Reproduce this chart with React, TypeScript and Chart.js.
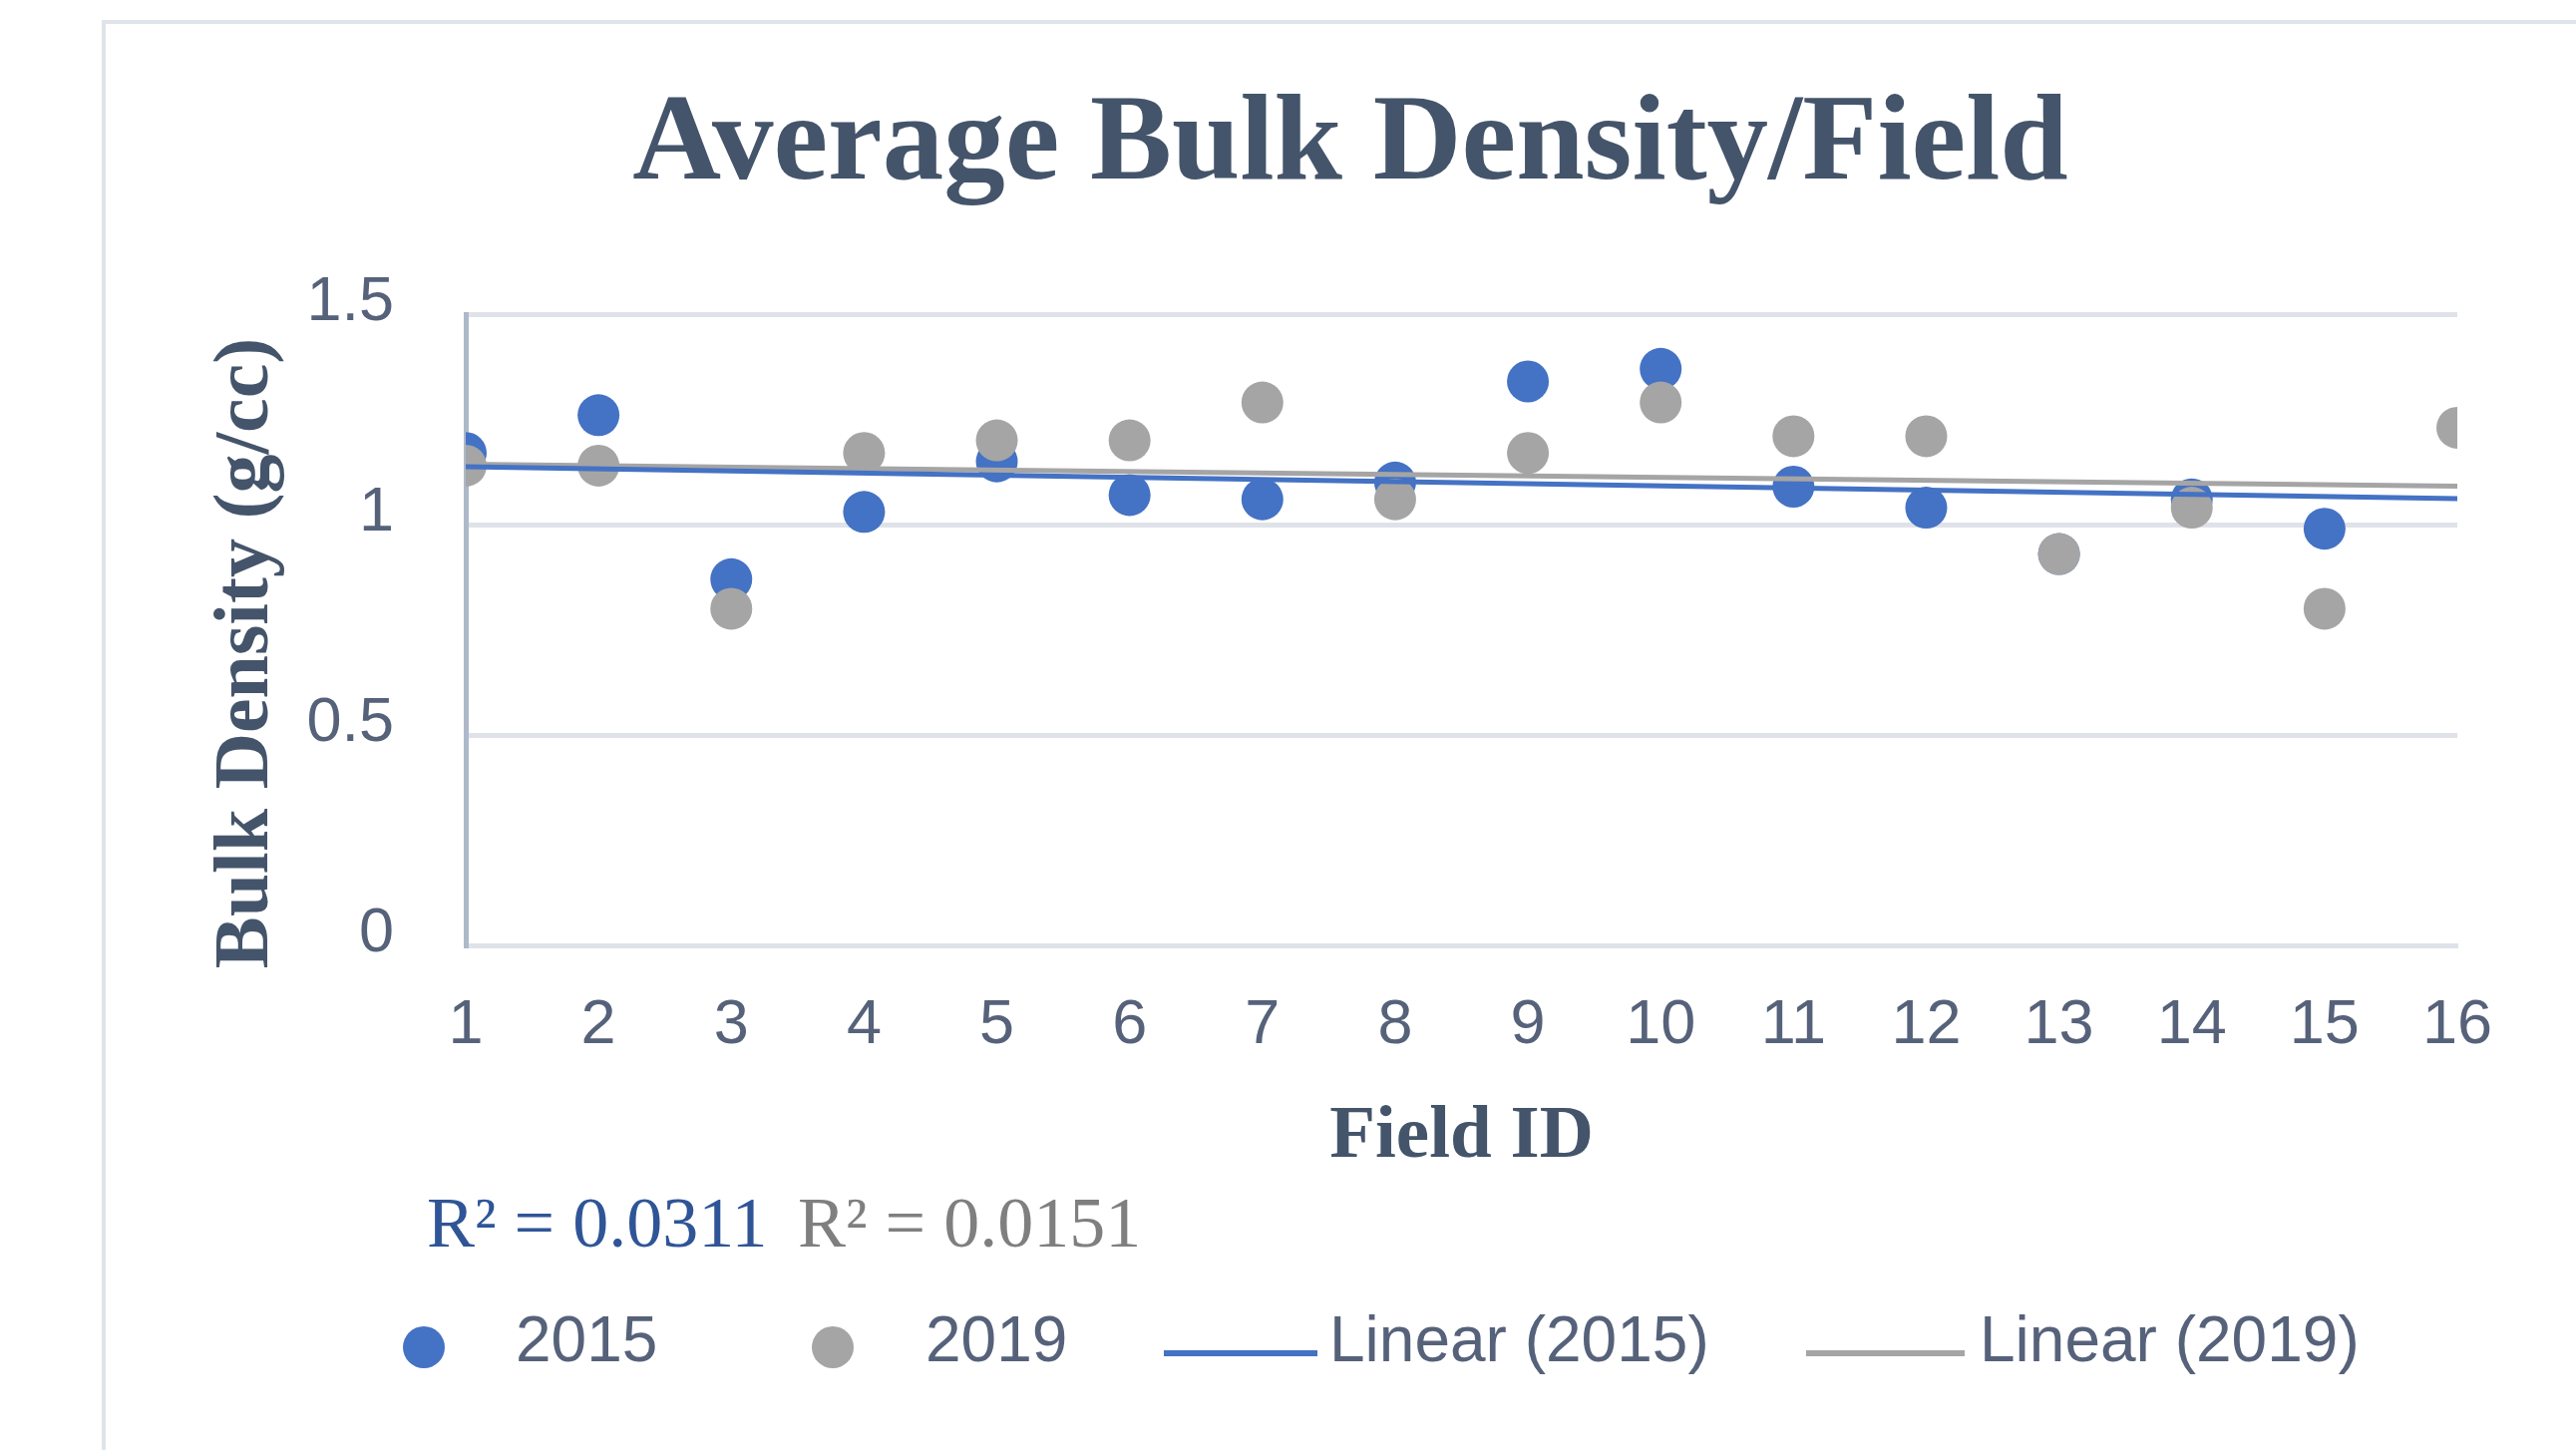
import React, { useEffect, useRef } from 'react';
import { Chart, registerables } from 'chart.js';

Chart.register(...registerables);

// ---- data ----
const fieldIds = [1, 2, 3, 4, 5, 6, 7, 8, 9, 10, 11, 12, 13, 14, 15, 16];
const bd2015 = [1.17, 1.26, 0.87, 1.03, 1.15, 1.07, 1.06, 1.1, 1.34, 1.37, 1.09, 1.04, 0.93, 1.06, 0.99];
const bd2019 = [1.14, 1.14, 0.8, 1.17, 1.2, 1.2, 1.29, 1.06, 1.17, 1.29, 1.21, 1.21, 0.93, 1.04, 0.8, 1.23];
const yTickValues = [0, 0.5, 1, 1.5];
const seriesLabels = ['2015', '2019'];
const trendLabels = ['Linear (2015)', 'Linear (2019)'];
const r2Labels = ['R² = 0.0311', 'R² = 0.0151'];
const titleText = 'Average Bulk Density/Field';
const xTitleText = 'Field ID';
const yTitleText = 'Bulk Density (g/cc)';

const BLUE = '#4472c4';
const GRAY = '#a5a5a5';
const TEXT = '#44546a';
const TICK = '#56627a';
const SERIF = '"Liberation Serif", "DejaVu Serif", serif';
const SANS = '"Liberation Sans", Arial, sans-serif';

function linFit(xs: number[], ys: number[]) {
  const n = ys.length;
  const x = xs.slice(0, n);
  const mx = x.reduce((a, b) => a + b, 0) / n;
  const my = ys.reduce((a, b) => a + b, 0) / n;
  let sxy = 0;
  let sxx = 0;
  for (let i = 0; i < n; i++) {
    sxy += (x[i] - mx) * (ys[i] - my);
    sxx += (x[i] - mx) * (x[i] - mx);
  }
  const b = sxy / sxx;
  const a = my - b * mx;
  return (v: number) => a + b * v;
}

const decorPlugin = {
  id: 'decor',
  beforeDraw(chart: any) {
    const ctx = chart.ctx;
    ctx.save();
    ctx.fillStyle = '#ffffff';
    ctx.fillRect(0, 0, chart.width, chart.height);
    ctx.strokeStyle = '#dfe3ea';
    ctx.lineWidth = 4;
    ctx.beginPath();
    ctx.moveTo(104, chart.height + 10);
    ctx.lineTo(104, 22);
    ctx.lineTo(chart.width + 10, 22);
    ctx.stroke();
    ctx.restore();
  },
  afterDraw(chart: any) {
    const ctx = chart.ctx;
    ctx.save();
    // main title
    ctx.fillStyle = TEXT;
    ctx.font = `bold 123px ${SERIF}`;
    ctx.textAlign = 'center';
    ctx.textBaseline = 'alphabetic';
    ctx.fillText(titleText, 1354, 179);

    // y axis title
    ctx.save();
    ctx.translate(268, 655);
    ctx.rotate(-Math.PI / 2);
    ctx.font = `bold 78px ${SERIF}`;
    ctx.textAlign = 'center';
    ctx.textBaseline = 'alphabetic';
    ctx.fillText(yTitleText, 0, 0);
    ctx.restore();

    // R² labels
    ctx.font = `72px ${SERIF}`;
    ctx.textAlign = 'left';
    ctx.fillStyle = '#2f5597';
    ctx.fillText(r2Labels[0], 428, 1250);
    ctx.fillStyle = '#7f7f7f';
    ctx.fillText(r2Labels[1], 800, 1250);

    // legend
    const ly = 1351;
    ctx.fillStyle = BLUE;
    ctx.beginPath();
    ctx.arc(425, ly, 21, 0, Math.PI * 2);
    ctx.fill();
    ctx.fillStyle = GRAY;
    ctx.beginPath();
    ctx.arc(835, ly, 21, 0, Math.PI * 2);
    ctx.fill();
    ctx.lineWidth = 6;
    ctx.strokeStyle = BLUE;
    ctx.beginPath();
    ctx.moveTo(1167, 1357);
    ctx.lineTo(1321, 1357);
    ctx.stroke();
    ctx.strokeStyle = GRAY;
    ctx.beginPath();
    ctx.moveTo(1811, 1357);
    ctx.lineTo(1970, 1357);
    ctx.stroke();

    ctx.fillStyle = TICK;
    ctx.font = `64px ${SANS}`;
    ctx.fillText(seriesLabels[0], 517, 1365);
    ctx.fillText(seriesLabels[1], 928, 1365);
    ctx.fillText(trendLabels[0], 1333, 1365);
    ctx.fillText(trendLabels[1], 1985, 1365);
    ctx.restore();
  },
};

export default function App() {
  const canvasRef = useRef<HTMLCanvasElement | null>(null);

  useEffect(() => {
    const canvas = canvasRef.current;
    if (!canvas) return;
    const fit15 = linFit(fieldIds, bd2015);
    const fit19 = linFit(fieldIds, bd2019);
    const xMin = fieldIds[0];
    const xMax = fieldIds[fieldIds.length - 1];

    const chart = new Chart(canvas, {
      type: 'scatter',
      data: {
        datasets: [
          {
            type: 'line',
            label: trendLabels[0],
            data: [
              { x: xMin, y: fit15(xMin) },
              { x: xMax, y: fit15(xMax) },
            ],
            borderColor: BLUE,
            borderWidth: 5,
            pointRadius: 0,
            fill: false,
            order: 0,
          },
          {
            type: 'line',
            label: trendLabels[1],
            data: [
              { x: xMin, y: fit19(xMin) },
              { x: xMax, y: fit19(xMax) },
            ],
            borderColor: GRAY,
            borderWidth: 5,
            pointRadius: 0,
            fill: false,
            order: 1,
          },
          {
            label: seriesLabels[1],
            data: bd2019.map((v, i) => ({ x: fieldIds[i], y: v })),
            backgroundColor: GRAY,
            borderColor: GRAY,
            borderWidth: 0,
            pointRadius: 21,
            order: 2,
          },
          {
            label: seriesLabels[0],
            data: bd2015.map((v, i) => ({ x: fieldIds[i], y: v })),
            backgroundColor: BLUE,
            borderColor: BLUE,
            borderWidth: 0,
            pointRadius: 21,
            order: 3,
          },
        ],
      },
      options: {
        responsive: false,
        animation: false,
        devicePixelRatio: 1,
        layout: { padding: { left: 199, right: 119, top: 315, bottom: 268 } },
        plugins: {
          legend: { display: false },
          title: { display: false },
          tooltip: { enabled: false },
        },
        scales: {
          x: {
            type: 'linear',
            min: xMin,
            max: xMax,
            afterFit: (scale: any) => {
              scale.height = 238;
            },
            afterBuildTicks: (scale: any) => {
              scale.ticks = fieldIds.map((v) => ({ value: v }));
            },
            grid: { display: false, drawTicks: false },
            border: { display: true, color: '#dfe3e9', width: 5 },
            ticks: {
              autoSkip: false,
              maxRotation: 0,
              padding: 43,
              color: TICK,
              font: { family: SANS, size: 63 },
              callback: (v: any) => String(v),
            },
            title: {
              display: true,
              text: xTitleText,
              color: TEXT,
              font: { family: SERIF, size: 75, weight: 'bold' },
              padding: { top: 0, bottom: 0 },
            },
          },
          y: {
            type: 'linear',
            min: 0,
            max: 1.5,
            afterFit: (scale: any) => {
              scale.width = 268;
            },
            afterBuildTicks: (scale: any) => {
              scale.ticks = yTickValues.map((v) => ({ value: v }));
            },
            grid: { display: true, color: '#dfe3e9', lineWidth: 5, drawTicks: false },
            border: { display: true, color: '#adb9ca', width: 5 },
            ticks: {
              padding: 72,
              labelOffset: -11,
              color: TICK,
              font: { family: SANS, size: 63 },
              callback: (v: any) => String(v),
            },
          },
        },
      },
      plugins: [decorPlugin],
    } as any);

    return () => chart.destroy();
  }, []);

  return (
    <div style={{ position: 'fixed', left: 0, top: 0, width: 2583, height: 1454, background: '#fff' }}>
      <canvas ref={canvasRef} width={2583} height={1454} style={{ display: 'block', width: 2583, height: 1454 }} />
    </div>
  );
}
